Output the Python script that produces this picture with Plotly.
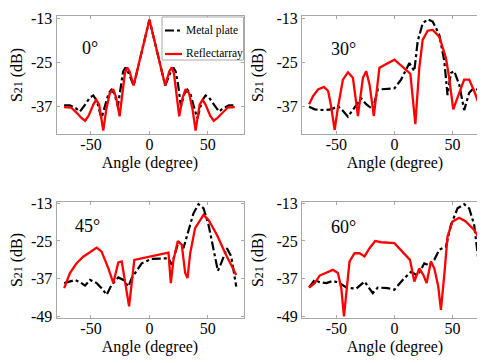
import plotly.graph_objects as go

# ---------------- data ----------------
# 0 degree
ang0_metal = [-73, -68, -63, -59.5, -55, -51, -48, -45, -41, -38, -35, -32.5, -30, -27, -24.5, -22.5, -20.5, -18, -13.5, -6.5, 0,
              6.5, 13.5, 18, 20.5, 22.5, 24.5, 27, 30, 32.5, 35, 38, 41, 45, 48, 51, 55, 59.5, 63, 68, 73]
s0_metal = [-36.7, -36.7, -37.5, -38.4, -36.5, -34.6, -34.0, -35.5, -40.2, -37.0, -33.5, -32.5, -33.5, -37.0, -31.0, -27.5, -26.4, -27.8, -31.3, -22.0, -13.4,
            -22.0, -31.3, -27.8, -26.4, -27.5, -31.0, -37.0, -33.5, -32.5, -33.5, -37.0, -40.2, -35.5, -34.0, -34.6, -36.5, -38.4, -37.5, -36.7, -36.7]
ang0_refl = [-73, -67, -62, -58, -55, -52, -48, -45.5, -43, -41, -39.5, -37, -34, -31, -28.5, -25.5, -23, -21, -19, -17, -13.5, -6.5, 0,
             6.5, 13.5, 17, 19, 21, 23, 25.5, 28.5, 31, 34, 37, 39.5, 41, 43, 45.5, 48, 52, 55, 58, 62, 67, 73]
s0_refl = [-37.2, -37.3, -38.8, -40.2, -40.9, -39.5, -36.5, -35.2, -36.5, -40.0, -43.6, -38.0, -33.5, -32.3, -34.5, -39.7, -33.0, -28.0, -26.4, -27.5, -31.3, -22.0, -13.4,
           -22.0, -31.3, -27.5, -26.4, -28.0, -33.0, -39.7, -34.5, -32.3, -33.5, -38.0, -43.6, -40.0, -36.5, -35.2, -36.5, -39.5, -40.9, -40.2, -38.8, -37.3, -37.2]

# 30 degree
ang30_metal = [-73.4, -68.6, -60, -54.3, -48.6, -44.3, -40, -34.3, -28.6, -24.3, -18.6, -14.3, 0, 5.7, 12.9, 17.1, 20, 24.3, 28.6, 32.9,
               38.6, 42.9, 45.7, 48.6, 51.4, 55.7, 60, 64.3, 68.6, 73.4]
s30_metal = [-37.1, -37.8, -38.0, -37.8, -36.9, -38.2, -39.8, -37.3, -34.8, -36.4, -37.8, -32.4, -32.1, -29.7, -25.2, -27.4, -19.3, -14.4, -13.3, -13.9,
             -17.5, -24.7, -33.9, -27.9, -27.4, -31.0, -38.0, -33.3, -31.9, -32.8]
ang30_refl = [-73.4, -70, -65.7, -60.6, -57, -54.3, -51.4, -48.6, -44.3, -40, -35.7, -31.4, -27.1, -24.3, -21.4, -17.7, -12.9, 0, 13.7, 18,
              21.4, 24.3, 28.6, 32.9, 38.6, 44.3, 47.1, 50.6, 54.3, 60, 64.3, 68.6, 73.4]
s30_refl = [-36.4, -34.2, -32.4, -31.7, -32.8, -37.3, -43.4, -37.3, -29.7, -27.7, -29.2, -39.6, -29.2, -27.4, -31.0, -39.6, -26.5, -24.3, -28.1, -41.8,
            -26.5, -18.9, -16.4, -16.2, -18.0, -23.8, -29.2, -37.8, -34.6, -29.7, -29.7, -32.8, -37.0]

# 45 degree
ang45_metal = [-72.9, -63.7, -59.4, -55.1, -50.9, -45.1, -40.9, -36.6, -32.3, -26.6, -22.3, -18, -15.1, -6.6, 2, 16.3, 19.1, 24.9, 29.1, 33.4,
               37.7, 42, 46.3, 50.6, 54.9, 58.6, 62, 66.3, 70, 74.3]
s45_metal = [-38.4, -37.4, -38.1, -39.2, -37.4, -38.4, -40.0, -42.1, -38.9, -36.6, -37.4, -39.5, -36.8, -32.1, -30.7, -30.5, -32.6, -25.2, -27.3, -22.0,
             -16.2, -13.3, -14.6, -19.9, -27.3, -34.5, -31.5, -27.3, -29.9, -39.5]
ang45_refl = [-72.9, -68, -62.3, -56.6, -50.9, -45.1, -40.9, -35.1, -30.9, -26.6, -23.7, -20.9, -17.4, -12.9, 2, 16.3, 18.3, 20.6, 24.3, 27.7,
              30.6, 32.6, 34.9, 39.1, 46.3, 50.6, 57.7, 64.9, 74.3]
s45_refl = [-40.0, -35.2, -32.1, -30.0, -28.6, -27.1, -28.4, -33.7, -38.4, -31.8, -31.5, -37.9, -45.8, -31.0, -29.9, -28.7, -38.4, -31.0, -25.0, -26.2,
            -35.2, -36.8, -28.9, -20.9, -16.7, -18.3, -23.0, -28.9, -35.8]

# 60 degree
ang60_metal = [-73.4, -68.6, -64.3, -58.6, -52.9, -47.1, -41.4, -32.9, -25.7, -18.6, -14.3, -5.7, 0, 7.1, 14.3, 20, 25.7, 30, 34.3, 38.6,
               44.3, 48.6, 54.3, 60, 64.3, 68.6, 72.9]
s60_metal = [-39.8, -37.4, -38.1, -38.4, -37.7, -38.4, -39.8, -40.2, -37.9, -41.6, -39.8, -40.0, -40.5, -37.4, -34.8, -36.0, -32.1, -32.8, -31.0, -27.8,
             -26.8, -19.9, -14.6, -13.3, -14.6, -19.9, -33.1]
ang60_refl = [-73.4, -68.6, -64.3, -58.6, -52.9, -48.6, -45.7, -43.4, -40.9, -38.6, -34.3, -30, -25.7, -21.4, -16.6, -11.4, 0, 13.4, 17.1, 21.4,
              24.9, 27.7, 31.4, 34.3, 37.7, 40, 42.9, 45.7, 50, 55.7, 61.4, 68.6, 73.7]
s60_refl = [-39.8, -38.4, -36.0, -35.2, -34.2, -35.2, -40.0, -49.0, -40.0, -31.5, -28.9, -28.9, -29.9, -27.3, -25.0, -25.4, -25.7, -31.0, -37.9, -33.7,
            -35.8, -38.4, -31.5, -33.7, -39.5, -46.9, -35.8, -23.6, -18.8, -17.6, -18.8, -21.5, -24.7]

panel_labels = ["0°", "30°", "45°", "60°"]
series_names = ["Metal plate", "Reflectarray"]
x_tickvals = [-50, 0, 50]
x_ticktext = ["-50", "0", "50"]
y_tickvals_top = [-13, -25, -37]
y_ticktext_top = ["-13", "-25", "-37"]
y_tickvals_bot = [-13, -25, -37, -49]
y_ticktext_bot = ["-13", "-25", "-37", "-49"]

# ---------------- figure ----------------
W, H = 485, 363
FONT = "Liberation Serif, DejaVu Serif, serif"
GRAY = "#a8a8a8"
fig = go.Figure()

panels = [
    (ang0_metal, s0_metal, ang0_refl, s0_refl),
    (ang30_metal, s30_metal, ang30_refl, s30_refl),
    (ang45_metal, s45_metal, ang45_refl, s45_refl),
    (ang60_metal, s60_metal, ang60_refl, s60_refl),
]

# pixel boxes (left, right, top, bottom)
boxes = [(48.5, 235.5, 8, 126), (294, 480, 8, 126), (48.5, 235.5, 194, 310), (294, 480, 194, 310)]
yranges = [[-44.5, -12.4], [-44.5, -12.4], [-49.5, -12.6], [-49.5, -12.6]]
xrange_ = [-79.5, 80.5]

metal_style = dict(color="black", width=2.2, dash="dashdot")
refl_style = dict(color="#ff0000", width=2.3)

for i, (am, sm, ar, sr) in enumerate(panels):
    k = "" if i == 0 else str(i + 1)
    fig.add_trace(go.Scatter(x=am, y=sm, mode="lines", name=series_names[0], line=metal_style,
                             xaxis="x" + k, yaxis="y" + k, showlegend=False))
    fig.add_trace(go.Scatter(x=ar, y=sr, mode="lines", name=series_names[1], line=refl_style,
                             xaxis="x" + k, yaxis="y" + k, showlegend=False))
    l, r, t, b = boxes[i]
    axcommon = dict(showline=True, linecolor=GRAY, linewidth=1, mirror="ticks", automargin=False,
                    ticks="inside", ticklen=3, tickcolor=GRAY, showgrid=False, zeroline=False,
                    tickfont=dict(family=FONT, size=16, color="black"))
    xa = dict(axcommon, domain=[l / W, r / W], range=xrange_, anchor="y" + k,
              tickvals=x_tickvals, ticktext=x_ticktext, ticklabelstandoff=-4,
              title=dict(text="Angle (degree)", font=dict(family=FONT, size=16, color="black"), standoff=4))
    yt = (y_tickvals_top, y_ticktext_top) if i < 2 else (y_tickvals_bot, y_ticktext_bot)
    ya = dict(axcommon, domain=[1 - b / H, 1 - t / H], range=yranges[i], anchor="x" + k,
              tickvals=yt[0], ticktext=yt[1],
              title=dict(text="S<span style='font-size:12px'>21</span> (dB)",
                         font=dict(family=FONT, size=16, color="black"), standoff=8))
    fig.layout["xaxis" + k] = xa
    fig.layout["yaxis" + k] = ya

ann_pos = [(-50.6, -21.2), (-44, -21.4), (-53, -20.1), (-44, -20.4)]
for i, lab in enumerate(panel_labels):
    k = "" if i == 0 else str(i + 1)
    fig.add_annotation(x=ann_pos[i][0], y=ann_pos[i][1], xref="x" + k, yref="y" + k,
                       text=lab, showarrow=False, font=dict(family=FONT, size=18, color="black"))

# manual legend inside first panel (paper coordinates)
def px(xp):
    return xp / W

def py(yp):
    return 1 - yp / H

fig.add_shape(type="rect", xref="paper", yref="paper", x0=px(154), x1=px(235.5), y0=py(52), y1=py(9),
              line=dict(color=GRAY, width=1), fillcolor="white", layer="above")
for j, (name, style, yy) in enumerate([(series_names[0], metal_style, 22.5), (series_names[1], refl_style, 46)]):
    fig.add_shape(type="line", xref="paper", yref="paper", x0=px(157), x1=px(174), y0=py(yy), y1=py(yy),
                  line=dict(color=style["color"], width=2.2, dash=style.get("dash", "solid")), layer="above")
    fig.add_annotation(xref="paper", yref="paper", x=px(176), y=py(yy), xanchor="left", yanchor="middle",
                       text=name, showarrow=False, font=dict(family=FONT, size=11.5, color="black"))

fig.update_layout(
    template="none",
    width=W, height=H, margin=dict(l=0, r=0, t=0, b=0, autoexpand=False),
    paper_bgcolor="white", plot_bgcolor="white", showlegend=False,
)

fig.write_html("out.html")
